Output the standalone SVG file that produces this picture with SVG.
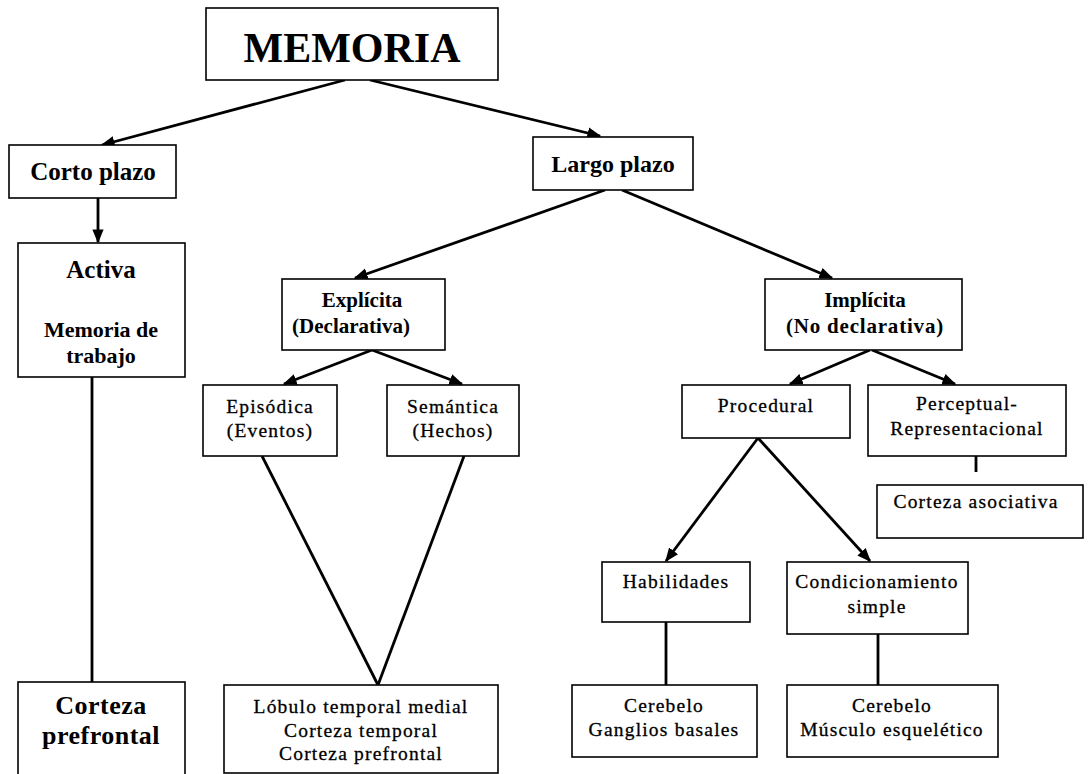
<svg xmlns="http://www.w3.org/2000/svg" width="1088" height="774" viewBox="0 0 1088 774">
<defs>
<marker id="ah" viewBox="0 0 10 10" refX="9" refY="5" markerWidth="5" markerHeight="5" orient="auto" markerUnits="strokeWidth">
<path d="M0,1 L10,5 L0,9 z" fill="#000"/>
</marker>
<style>
rect{fill:#fff;stroke:#000;stroke-width:1.6}
text{font-family:"Liberation Serif","Times New Roman",serif;text-anchor:middle;fill:#000}
.b{font-weight:bold}
.r{font-size:19.5px;letter-spacing:1.2px;stroke:#000;stroke-width:0.3}
.c line{stroke:#000;stroke-width:2.8;fill:none}
.c .a{marker-end:url(#ah)}
</style>
</defs>
<rect x="0" y="0" width="1088" height="774" style="fill:#fff;stroke:none"/>
<g class="c" id="connectors">
<line class="a" x1="345" y1="80" x2="102" y2="145"/>
<line class="a" x1="370" y1="80" x2="600" y2="136"/>
<line class="a" x1="98" y1="198" x2="98" y2="242"/>
<line class="a" x1="605" y1="190" x2="355" y2="278"/>
<line class="a" x1="622" y1="190" x2="832" y2="278"/>
<line class="a" x1="372" y1="350" x2="284" y2="384"/>
<line class="a" x1="372" y1="350" x2="462" y2="384"/>
<line class="a" x1="870" y1="350" x2="790" y2="384"/>
<line class="a" x1="872" y1="350" x2="955" y2="384"/>
<line class="a" x1="758" y1="438" x2="666" y2="561"/>
<line class="a" x1="758" y1="438" x2="870" y2="561"/>
<line x1="262" y1="456" x2="378" y2="685"/>
<line x1="464" y1="456" x2="378" y2="685"/>
<line x1="92" y1="377" x2="92" y2="682"/>
<line x1="976" y1="456" x2="976" y2="472"/>
<line x1="666" y1="622" x2="666" y2="685"/>
<line x1="878" y1="634" x2="878" y2="685"/>
</g>
<g id="memoria"><rect x="206" y="8" width="292" height="72"/><text class="b" x="352" y="62" font-size="42">MEMORIA</text></g>
<g id="corto"><rect x="9" y="145" width="167" height="53"/><text class="b" x="93" y="180" font-size="25">Corto plazo</text></g>
<g id="largo"><rect x="533" y="137" width="160" height="53"/><text class="b" x="613" y="172" font-size="24">Largo plazo</text></g>
<g id="activa"><rect x="18" y="243" width="167" height="134"/><text class="b" x="101" y="278" font-size="25">Activa</text><text class="b" x="101" y="337" font-size="22">Memoria de</text><text class="b" x="101" y="363" font-size="22">trabajo</text></g>
<g id="explicita"><rect x="282" y="279" width="163" height="71"/><text class="b" x="362" y="307" font-size="21">Explícita</text><text class="b" x="351" y="333" font-size="21">(Declarativa)</text></g>
<g id="implicita"><rect x="765" y="279" width="197" height="71"/><text class="b" x="865" y="307" font-size="21">Implícita</text><text class="b" x="865" y="333" font-size="21" letter-spacing="0.8">(No declarativa)</text></g>
<g id="episodica"><rect x="203" y="385" width="134" height="71"/><text class="r" x="270" y="413">Episódica</text><text class="r" x="270" y="437">(Eventos)</text></g>
<g id="semantica"><rect x="387" y="385" width="132" height="71"/><text class="r" x="453" y="413">Semántica</text><text class="r" x="453" y="437">(Hechos)</text></g>
<g id="procedural"><rect x="682" y="385" width="168" height="53"/><text class="r" x="766" y="412">Procedural</text></g>
<g id="perceptual"><rect x="868" y="385" width="198" height="71"/><text class="r" x="967" y="410">Perceptual-</text><text class="r" x="967" y="435">Representacional</text></g>
<g id="asociativa"><rect x="877" y="485" width="206" height="53"/><text class="r" x="976" y="508">Corteza asociativa</text></g>
<g id="habilidades"><rect x="602" y="562" width="148" height="60"/><text class="r" x="676" y="588">Habilidades</text></g>
<g id="condicionamiento"><rect x="787" y="562" width="181" height="72"/><text class="r" x="877" y="588">Condicionamiento</text><text class="r" x="877" y="613">simple</text></g>
<g id="prefrontal"><rect x="18" y="682" width="167" height="100"/><text class="b" x="101" y="714" font-size="26" letter-spacing="0.5">Corteza</text><text class="b" x="101" y="744" font-size="26" letter-spacing="0.5">prefrontal</text></g>
<g id="lobulo"><rect x="224" y="685" width="274" height="88"/><text class="r" x="361" y="713">Lóbulo temporal medial</text><text class="r" x="361" y="737">Corteza temporal</text><text class="r" x="361" y="760">Corteza prefrontal</text></g>
<g id="ganglios"><rect x="572" y="685" width="185" height="72"/><text class="r" x="664" y="712">Cerebelo</text><text class="r" x="664" y="736">Ganglios basales</text></g>
<g id="musculo"><rect x="787" y="685" width="211" height="72"/><text class="r" x="892" y="712">Cerebelo</text><text class="r" x="892" y="736">Músculo esquelético</text></g>
</svg>
